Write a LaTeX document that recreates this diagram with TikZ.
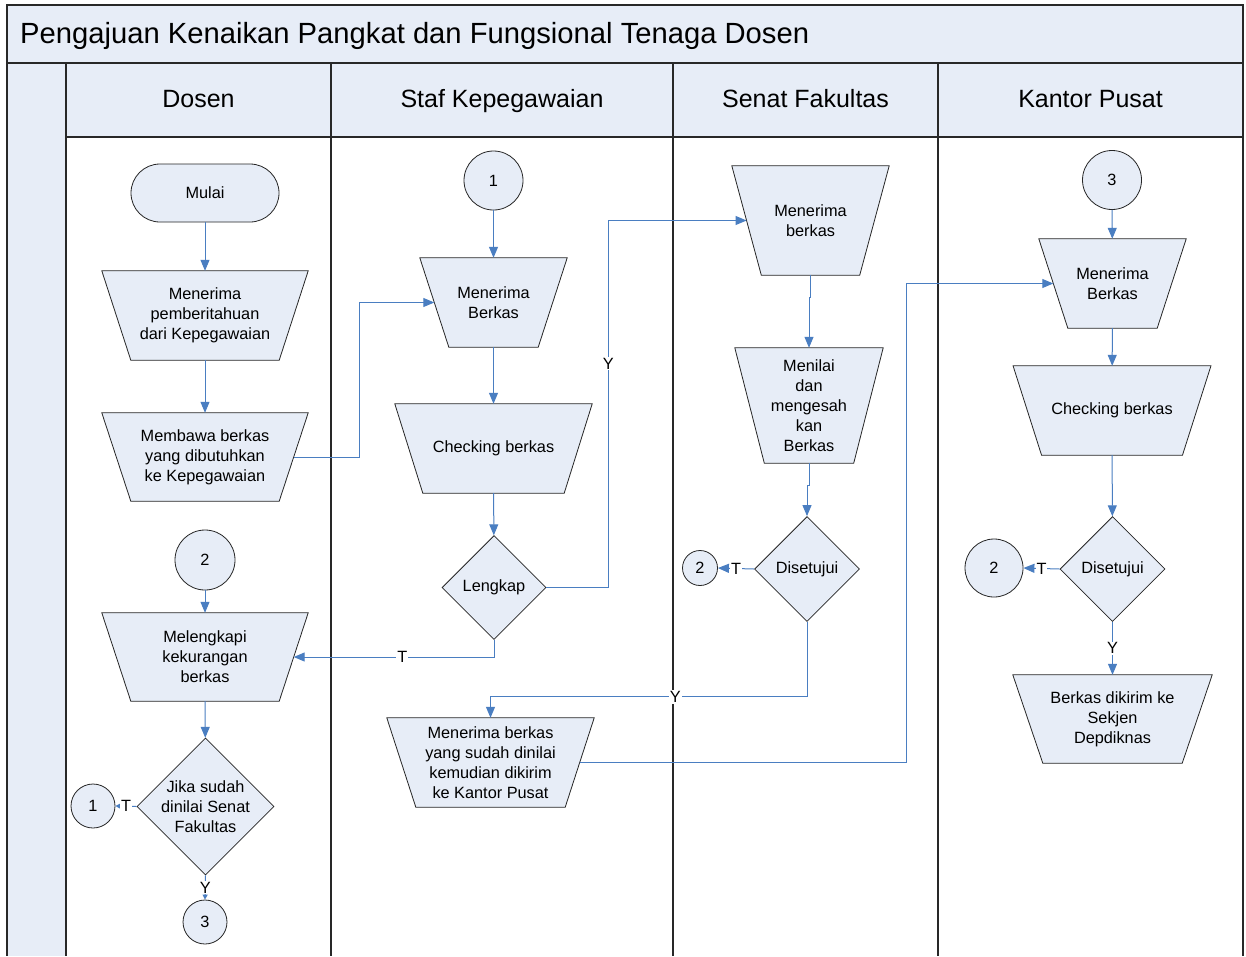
\documentclass[tikz,border=0pt]{standalone}
\usepackage{fontspec}
\setmainfont{Liberation Sans}
\usetikzlibrary{shapes.geometric,arrows.meta,calc,backgrounds}
\definecolor{fillc}{RGB}{231,237,247}
\definecolor{linec}{RGB}{74,126,193}
\definecolor{framec}{RGB}{40,40,40}
\newcommand\nfont{\fontsize{16.3}{20}\selectfont}
\begin{document}
\begin{tikzpicture}[x=1pt,y=-1pt,
  base/.style={draw=black!85, fill=fillc, line width=0.8pt, font=\nfont, align=center, inner sep=0pt},
  trapbox/.style={rectangle, font=\nfont, align=center, inner sep=0pt},
  trapborder/.style={draw=black!85, fill=fillc, line width=0.8pt},
  circ/.style={base, circle},
  dia/.style={base, diamond, aspect=1},
  term/.style={base, rectangle, rounded corners=29pt},
  conn/.style={draw=linec, line width=1pt, -{Triangle[length=11pt,width=9pt]}},
  smallconn/.style={draw=linec, line width=1pt, -{Triangle[length=5pt,width=5pt]}},
  lbl/.style={fill=white, inner sep=1pt, font=\nfont, text=black},
  frame/.style={draw=framec, line width=1.3pt},
  head/.style={anchor=base, inner sep=0pt, font=\fontsize{25}{30}\selectfont}
]
\useasboundingbox (0,0) rectangle (1246,956);
% frame (background layer)
\begin{scope}[on background layer]
\fill[white] (0,0) rectangle (1246,956);
\filldraw[frame, fill=fillc] (7,5) rectangle (1243,63);
\fill[fillc] (7,63) rectangle (66,956);
\filldraw[frame, fill=fillc] (66,63) rectangle (1243,137);
\draw[frame] (7,5) -- (7,956);
\draw[frame] (1243,5) -- (1243,956);
\draw[frame] (66,63) -- (66,956);
\draw[frame] (331,63) -- (331,956);
\draw[frame] (673,63) -- (673,956);
\draw[frame] (938,63) -- (938,956);
\draw[frame, line width=1.8pt] (7,63) -- (1243,63);
\end{scope}
\node[anchor=base west, inner sep=0pt, font=\fontsize{29.2}{34}\selectfont] (title) at (20,43.5) {Pengajuan Kenaikan Pangkat dan Fungsional Tenaga Dosen};
\node[head] (h1) at (198.5,107.5) {Dosen};
\node[head] (h2) at (502,107.5) {Staf Kepegawaian};
\node[head] (h3) at (805.5,107.5) {Senat Fakultas};
\node[head] (h4) at (1090.5,107.5) {Kantor Pusat};

% Dosen lane
\node[term, minimum width=148pt, minimum height=58pt] (mulai) at (205,193) {Mulai};
\node[trapbox, minimum width=177pt, minimum height=89pt] (mp) at (205,315.5) {Menerima\\pemberitahuan\\dari Kepegawaian};
\node[trapbox, minimum width=177pt, minimum height=88pt] (mb) at (205,457) {Membawa berkas\\yang dibutuhkan\\ke Kepegawaian};
\node[circ, minimum size=60pt] (c2d) at (205,560) {2};
\node[trapbox, minimum width=177pt, minimum height=88pt] (mk) at (205,657) {Melengkapi\\kekurangan\\berkas};
\node[dia, minimum size=137pt, inner sep=-6pt] (jika) at (205.5,806.5) {Jika sudah\\dinilai Senat\\Fakultas};
\node[circ, minimum size=44pt] (c1d) at (93,806) {1};
\node[circ, minimum size=44pt] (c3d) at (205,922) {3};

% Staf lane
\node[circ, minimum size=59pt] (c1s) at (493.5,180.5) {1};
\node[trapbox, minimum width=118pt, minimum height=89pt] (mbs) at (493.5,302.5) {Menerima\\Berkas};
\node[trapbox, minimum width=169pt, minimum height=89pt] (cbs) at (493.5,448.5) {Checking berkas};
\node[dia, minimum size=104pt] (lengkap) at (494,587.5) {Lengkap};
\node[trapbox, minimum width=178pt, minimum height=89pt] (mbd) at (490.5,762.5) {Menerima berkas\\yang sudah dinilai\\kemudian dikirim\\ke Kantor Pusat};

% Senat lane
\node[trapbox, minimum width=127.5pt, minimum height=109pt] (sm) at (810.5,220.5) {Menerima\\berkas};
\node[trapbox, minimum width=118.5pt, minimum height=115pt] (mn) at (809,405.5) {Menilai\\dan\\mengesah\\kan\\Berkas};
\node[dia, minimum size=105pt] (ds) at (807,569) {Disetujui};
\node[circ, minimum size=35pt] (c2s) at (700,568) {2};

% Kantor lane
\node[circ, minimum size=59pt] (c3k) at (1112,180) {3};
\node[trapbox, minimum width=118pt, minimum height=89pt] (km) at (1112.5,283.5) {Menerima\\Berkas};
\node[trapbox, minimum width=169pt, minimum height=89pt] (ck) at (1112,410.5) {Checking berkas};
\node[dia, minimum size=105pt] (dk) at (1112.5,569) {Disetujui};
\node[circ, minimum size=58pt] (c2k) at (994,568) {2};
\node[trapbox, minimum width=169pt, minimum height=88pt] (bd) at (1112.5,719) {Berkas dikirim ke\\Sekjen\\Depdiknas};

% trapezoid outlines (manual-input shapes), drawn behind the texts
\begin{scope}[on background layer]
\foreach \n/\d in {mp/14.5, mb/14.5, mk/14.5, mbs/14.5, cbs/14, mbd/14.5, sm/14.75, mn/14.75, km/14.5, ck/14.25, bd/15}{
  \filldraw[trapborder] ($(\n.north west)+(-\d,0)$) -- ($(\n.north east)+(\d,0)$)
     -- ($(\n.south east)+(-\d,0)$) -- ($(\n.south west)+(\d,0)$) -- cycle;
}
\end{scope}

% connectors Dosen
\draw[conn] (mulai) -- (mp);
\draw[conn] (mp) -- (mb);
\draw[conn] (c2d) -- (mk);
\draw[conn] (mk) -- (jika);
\draw[smallconn] (jika.west) -- node[lbl] {T} (c1d.east);
\draw[smallconn] (jika.south) -- node[lbl] {Y} (c3d.north);
\draw[conn] (mb.east) -- ++(65.5,0) |- (mbs.west);

% connectors Staf
\draw[conn] (c1s) -- (mbs);
\draw[conn] (mbs) -- (cbs);
\draw[conn] (cbs) -- (lengkap);
\draw[conn] (lengkap.east) -- ++(62,0) |- node[lbl, pos=0.305] {Y} (sm.west);
\draw[conn] (lengkap.south) |- node[lbl, pos=0.729] {T} (mk.east);
\draw[conn] (mbd.east) -- ++(326.5,0) |- (km.west);

% connectors Senat
\draw[conn] (sm.south) -- ++(0,22) -| (mn.north);
\draw[conn] (mn.south) -- ++(0,22) -| (ds.north);
\draw[conn] (ds.west) -- node[lbl] {T} (c2s.east);
\draw[conn] (ds.south) -- ++(0,75) -| node[lbl, pos=0.208] {Y} (mbd.north);

% connectors Kantor
\draw[conn] (c3k) -- (km);
\draw[conn] (km) -- (ck);
\draw[conn] (ck) -- (dk);
\draw[conn] (dk.west) -- node[lbl] {T} (c2k.east);
\draw[conn] (dk.south) -- node[lbl] {Y} (bd.north);
\end{tikzpicture}
\end{document}
